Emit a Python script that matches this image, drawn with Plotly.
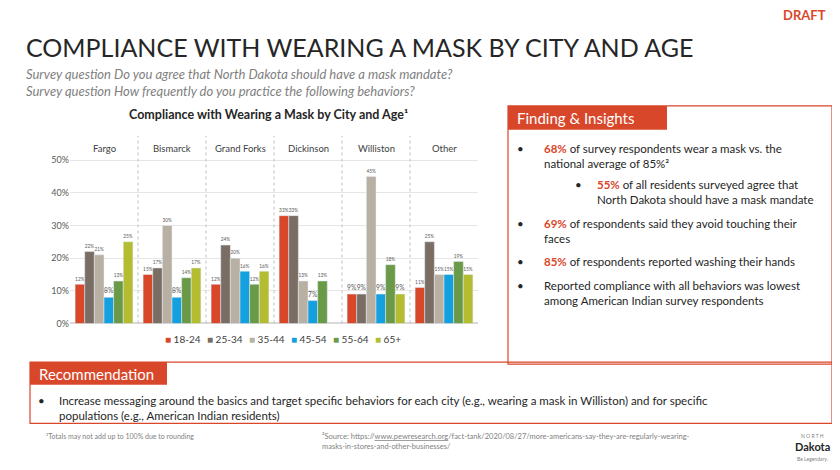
import plotly.graph_objects as go

cities = ["Fargo", "Bismarck", "Grand Forks", "Dickinson", "Williston", "Other"]
age_groups = ["18-24", "25-34", "35-44", "45-54", "55-64", "65+"]
colors = ["#d9472b", "#7a6d64", "#b8b0a2", "#14a0de", "#6a9a48", "#b4bd31"]
values = {
    "18-24": [0.12, 0.15, 0.12, 0.33, 0.09, 0.11],
    "25-34": [0.22, 0.17, 0.24, 0.33, 0.09, 0.25],
    "35-44": [0.21, 0.30, 0.20, 0.13, 0.45, 0.15],
    "45-54": [0.08, 0.08, 0.16, 0.07, 0.09, 0.15],
    "55-64": [0.13, 0.14, 0.12, 0.13, 0.18, 0.19],
    "65+":   [0.25, 0.17, 0.16, None, 0.09, 0.15],
}

# the page body has an 8px margin, so the figure is shrunk to fit inside it
W, H = 824, 454
def px(x): return (x - 8) / W
def py(y): return 1 - (y - 8) / H

fig = go.Figure()
for age, col in zip(age_groups, colors):
    fig.add_trace(go.Bar(
        x=cities, y=values[age], name=age, marker_color=col,
        texttemplate="%{y:.0%}", textposition="outside",
        textfont=dict(size=7, color="#595959"), cliponaxis=False,
    ))

font = "Lato"
fig.update_layout(
    width=W, height=H, margin=dict(l=0, r=0, t=0, b=0),
    paper_bgcolor="white", plot_bgcolor="white",
    font=dict(family=font, color="#404040"),
    barmode="group", bargap=0.15, bargroupgap=0.0,
    xaxis=dict(domain=[px(70), px(478)], showticklabels=False, showline=False),
    yaxis=dict(domain=[py(327), py(137)], range=[0, 0.575],
               tickvals=[0, 0.1, 0.2, 0.3, 0.4, 0.5], tickformat=".0%",
               tickfont=dict(size=9, color="#595959"),
               gridcolor="#e6e6e6", zeroline=True, zerolinecolor="#d9d9d9"),
    showlegend=False,
)

for i, c in enumerate(cities):
    fig.add_annotation(x=c, y=0.535, text=c, showarrow=False, font=dict(size=9.5, color="#404040"))
    if i > 0:
        fig.add_shape(type="line", x0=i - 0.5, x1=i - 0.5, y0=0, y1=0.575, xref="x", yref="y",
                      line=dict(color="#bfbfbf", width=1, dash="dot"))

def text(x, y, t, size, color="#404040", xanchor="left", yanchor="top"):
    fig.add_annotation(x=px(x), y=py(y), xref="paper", yref="paper", text=t, showarrow=False,
                       xanchor=xanchor, yanchor=yanchor, align="left",
                       font=dict(size=size, color=color, family=font))

# compact legend: coloured square + label
for i, (age, col) in enumerate(zip(age_groups, colors)):
    x0 = 163 + i * 42
    text(x0, 335, f"<span style='color:{col}'>■</span> {age}", 10, color="#404040")

text(828, 5, "<b>DRAFT</b>", 13, color="#d9472b", xanchor="right")
text(24, 30, "COMPLIANCE WITH WEARING A MASK BY CITY AND AGE", 25, color="#262626")
text(24, 65, "<i>Survey question Do you agree that North Dakota should have a mask mandate?<br>"
     "Survey question How frequently do you practice the following behaviors?</i>", 13, color="#7f7f7f")
text(268, 106, "<b>Compliance with Wearing a Mask by City and Age¹</b>", 12.5, color="#262626", xanchor="center")

# Findings box
red = "#d9472b"
fig.add_shape(type="rect", xref="paper", yref="paper", x0=px(508), x1=px(832), y0=py(368), y1=py(107),
              line=dict(color=red, width=1.2))
fig.add_shape(type="rect", xref="paper", yref="paper", x0=px(508), x1=px(667), y0=py(131), y1=py(107),
              line=dict(width=0), fillcolor=red)
text(515, 108, "Finding & Insights", 15, color="white")
bul = [
    (515, 141, "•"), (542, 141, f"<b><span style='color:{red}'>68%</span></b> of survey respondents wear a mask vs. the<br>national average of 85%²"),
    (573, 178, "•"), (595, 178, f"<b><span style='color:{red}'>55%</span></b> of all residents surveyed agree that<br>North Dakota should have a mask mandate"),
    (515, 217, "•"), (542, 217, f"<b><span style='color:{red}'>69%</span></b> of respondents said they avoid touching their<br>faces"),
    (515, 256, "•"), (542, 256, f"<b><span style='color:{red}'>85%</span></b> of respondents reported washing their hands"),
    (515, 280, "•"), (542, 280, "Reported compliance with all behaviors was lowest<br>among American Indian survey respondents"),
]
for x, y, t in bul:
    text(x, y, t, 11.5, color="#262626")

# Recommendation box
fig.add_shape(type="rect", xref="paper", yref="paper", x0=px(30), x1=px(832), y0=py(428), y1=py(366),
              line=dict(color=red, width=1.2))
fig.add_shape(type="rect", xref="paper", yref="paper", x0=px(30), x1=px(167), y0=py(389), y1=py(366),
              line=dict(width=0), fillcolor=red)
text(37, 367, "Recommendation", 15, color="white")
text(36, 396, "•", 11.5, color="#262626")
text(57, 396, "Increase messaging around the basics and target specific behaviors for each city (e.g., wearing a mask in Williston) and for specific<br>"
     "populations (e.g., American Indian residents)", 11.5, color="#262626")

text(44, 435, "¹Totals may not add up to 100% due to rounding", 7, color="#7f7f7f")
text(320, 435, "²Source: https://<u>www.pewresearch.org</u>/fact-tank/2020/08/27/more-americans-say-they-are-regularly-wearing-<br>"
     "masks-in-stores-and-other-businesses/", 7.5, color="#7f7f7f")
text(812, 436, "N O R T H", 5, color="#7f7f7f", xanchor="center")
text(812, 443, "<b>Dakota</b>", 11, color="#262626", xanchor="center")
text(812, 459, "Be Legendary.", 5, color="#7f7f7f", xanchor="center")

fig.write_html("out.html")
